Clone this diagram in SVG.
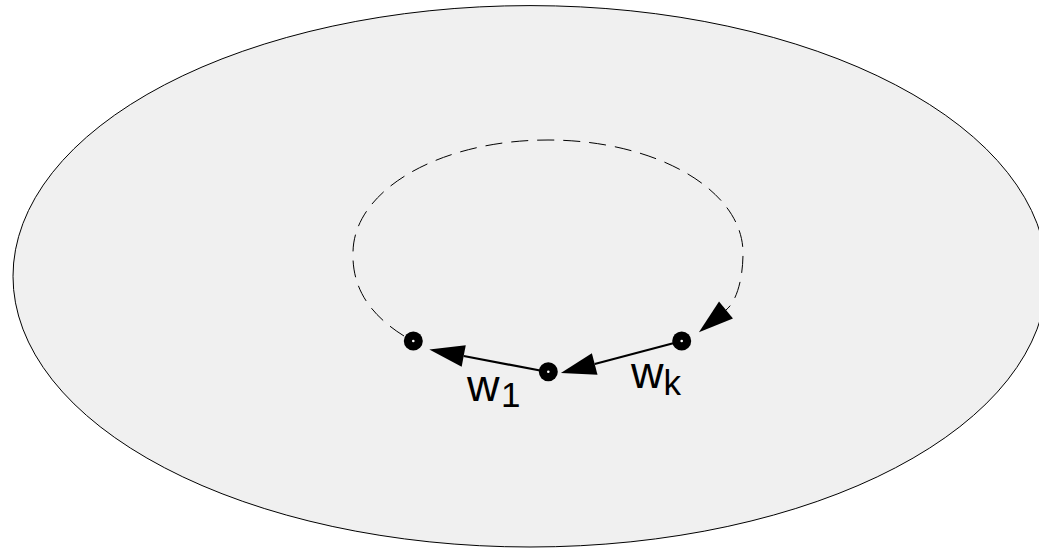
<svg xmlns="http://www.w3.org/2000/svg" width="1039" height="552" viewBox="0 0 1039 552">
  <style>
    .region { fill: #f0f0f0; stroke: #000; stroke-width: 1; }
    .edge { fill: none; stroke: #000; stroke-width: 2.2; }
    .dashed { fill: none; stroke: #000; stroke-width: 1; stroke-dasharray: 17 9; }
    .dot { fill: #000; }
    .hole { fill: #fff; }
    .lbl { font-family: "Liberation Sans", Arial, Helvetica, sans-serif; fill: #000; }
  </style>
  <defs>
    <marker id="arrow" markerUnits="userSpaceOnUse" markerWidth="36" markerHeight="22" refX="0" refY="11" orient="auto" overflow="visible">
      <path d="M0,0 L35,11 L0,22 Z" fill="#000" stroke="none"/>
    </marker>
  </defs>
  <ellipse class="region" cx="530" cy="276.3" rx="517" ry="270.7"/>
  <g id="connectors">
    <path class="dashed" d="M404,336 C372,316 352,290 353,253 C353,190 440,140 548,140 C656,140 743,190 743,253 C743,278 737,301 726,310" marker-end="url(#arrow)"/>
    <path class="edge" d="M548,372 L463.7,356" marker-end="url(#arrow)"/>
    <path class="edge" d="M681.7,341 L594.7,364" marker-end="url(#arrow)"/>
  </g>
  <g id="node-w0">
    <circle class="dot" cx="413.3" cy="341" r="9.5"/>
    <circle class="hole" cx="413.3" cy="341" r="1.3"/>
  </g>
  <g id="node-w1">
    <circle class="dot" cx="548.3" cy="371.7" r="9.5"/>
    <circle class="hole" cx="548.3" cy="371.7" r="1.3"/>
  </g>
  <g id="node-wk">
    <circle class="dot" cx="681.7" cy="341" r="9.5"/>
    <circle class="hole" cx="681.7" cy="341" r="1.3"/>
  </g>
  <g id="label-w1">
    <text class="lbl" x="467" y="400.5" font-size="45">w<tspan x="501" y="406.5" font-size="35">1</tspan></text>
  </g>
  <g id="label-wk">
    <text class="lbl" x="631" y="387.5" font-size="45">w<tspan x="663.5" y="395" font-size="35">k</tspan></text>
  </g>
</svg>
